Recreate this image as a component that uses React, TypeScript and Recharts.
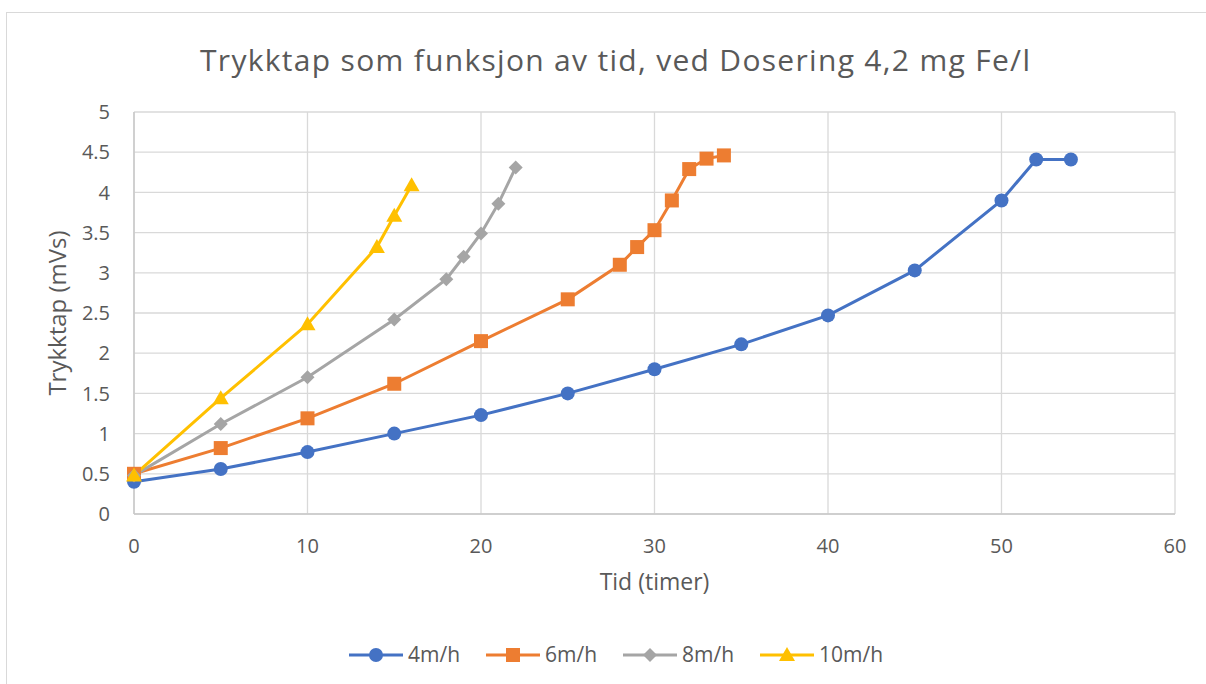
import React from "react";
import { CartesianGrid, Label, Line, LineChart, XAxis, YAxis } from "recharts";

// Trykktap (mVs) målt mot tid (timer), én serie per filterhastighet
const TIME_4 = [0, 5, 10, 15, 20, 25, 30, 35, 40, 45, 50, 52, 54];
const LOSS_4 = [0.4, 0.56, 0.77, 1.0, 1.23, 1.5, 1.8, 2.11, 2.47, 3.03, 3.9, 4.41, 4.41];
const TIME_6 = [0, 5, 10, 15, 20, 25, 28, 29, 30, 31, 32, 33, 34];
const LOSS_6 = [0.5, 0.82, 1.19, 1.62, 2.15, 2.67, 3.1, 3.32, 3.53, 3.9, 4.29, 4.42, 4.46];
const TIME_8 = [0, 5, 10, 15, 18, 19, 20, 21, 22];
const LOSS_8 = [0.48, 1.12, 1.7, 2.42, 2.92, 3.2, 3.49, 3.86, 4.31];
const TIME_10 = [0, 5, 10, 14, 15, 16];
const LOSS_10 = [0.48, 1.44, 2.36, 3.32, 3.71, 4.09];

const X_TICKS = [0, 10, 20, 30, 40, 50, 60];
const Y_TICKS = [0, 0.5, 1, 1.5, 2, 2.5, 3, 3.5, 4, 4.5, 5];

const TITLE = "Trykktap som funksjon av tid, ved Dosering 4,2 mg Fe/l";
const FONT = "'Open Sans', sans-serif";
const TEXT = "#595959";

type Shape = "circle" | "square" | "diamond" | "triangle";

const toPoints = (xs: number[], ys: number[]) => xs.map((x, i) => ({ x, y: ys[i] }));

const SERIES = [
  { name: "4m/h", color: "#4472C4", shape: "circle" as Shape, data: toPoints(TIME_4, LOSS_4) },
  { name: "6m/h", color: "#ED7D31", shape: "square" as Shape, data: toPoints(TIME_6, LOSS_6) },
  { name: "8m/h", color: "#A5A5A5", shape: "diamond" as Shape, data: toPoints(TIME_8, LOSS_8) },
  { name: "10m/h", color: "#FFC000", shape: "triangle" as Shape, data: toPoints(TIME_10, LOSS_10) },
];

function Marker({ shape, cx, cy, color }: { shape: Shape; cx: number; cy: number; color: string }) {
  if (shape === "circle") return <circle cx={cx} cy={cy} r={7} fill={color} />;
  if (shape === "square") return <rect x={cx - 7} y={cy - 7} width={14} height={14} fill={color} />;
  if (shape === "diamond")
    return <polygon points={`${cx},${cy - 7} ${cx + 7},${cy} ${cx},${cy + 7} ${cx - 7},${cy}`} fill={color} />;
  return <polygon points={`${cx},${cy - 8} ${cx + 8},${cy + 6} ${cx - 8},${cy + 6}`} fill={color} />;
}

const makeDot = (shape: Shape, color: string) => (props: any) => (
  <Marker key={`${shape}-${props.index}`} shape={shape} cx={props.cx} cy={props.cy} color={color} />
);

export default function App() {
  return (
    <div style={{ position: "relative", width: 1206, height: 684, overflow: "hidden", background: "#fff" }}>
      <style>{`body { margin: 0; }`}</style>
      <div
        style={{
          position: "absolute",
          left: 6,
          top: 12,
          width: 1220,
          height: 700,
          border: "1.5px solid #d9d9d9",
          boxSizing: "border-box",
        }}
      />
      <LineChart
        width={1206}
        height={684}
        margin={{ top: 112, right: 31, bottom: 90, left: 54 }}
        style={{ position: "absolute", left: 0, top: 0, fontFamily: FONT }}
      >
        <CartesianGrid stroke="#d9d9d9" strokeWidth={1.3} />
        <XAxis
          dataKey="x"
          type="number"
          domain={[0, 60]}
          ticks={X_TICKS}
          height={80}
          tickLine={false}
          tickMargin={19}
          axisLine={{ stroke: "#c8c8c8", strokeWidth: 1.5 }}
          tick={{ fill: TEXT, fontSize: 20 }}
          allowDuplicatedCategory={false}
        >
          <Label
            content={(p: any) => (
              <text
                x={p.viewBox.x + p.viewBox.width / 2}
                y={p.viewBox.y + 76}
                textAnchor="middle"
                fill={TEXT}
                fontSize={23}
                fontFamily={FONT}
              >
                Tid (timer)
              </text>
            )}
          />
        </XAxis>
        <YAxis
          type="number"
          domain={[0, 5]}
          ticks={Y_TICKS}
          width={80}
          tickLine={false}
          tickMargin={18}
          axisLine={{ stroke: "#c8c8c8", strokeWidth: 1.5 }}
          tick={{ fill: TEXT, fontSize: 20 }}
        >
          <Label
            content={(p: any) => {
              const cy = p.viewBox.y + p.viewBox.height / 2;
              return (
                <text
                  x={66}
                  y={cy}
                  transform={`rotate(-90 66 ${cy})`}
                  textAnchor="middle"
                  fill={TEXT}
                  fontSize={24}
                  fontFamily={FONT}
                >
                  Trykktap (mVs)
                </text>
              );
            }}
          />
        </YAxis>
        {SERIES.map((s) => (
          <Line
            key={s.name}
            data={s.data}
            dataKey="y"
            name={s.name}
            stroke={s.color}
            strokeWidth={3}
            dot={makeDot(s.shape, s.color)}
            activeDot={false}
            isAnimationActive={false}
          />
        ))}
      </LineChart>
      <svg width={1206} height={684} style={{ position: "absolute", left: 0, top: 0, pointerEvents: "none" }}>
        <text
          x={615}
          y={71}
          textAnchor="middle"
          fill={TEXT}
          fontSize={30}
          fontFamily={FONT}
          textLength={830}
          lengthAdjust="spacing"
        >
          {TITLE}
        </text>
        {SERIES.map((s, i) => {
          const x0 = 349 + i * 137;
          return (
            <g key={s.name}>
              <line x1={x0} x2={x0 + 54} y1={655} y2={655} stroke={s.color} strokeWidth={3} />
              <Marker shape={s.shape} cx={x0 + 27} cy={655} color={s.color} />
              <text x={x0 + 59} y={662} fill={TEXT} fontSize={21} fontFamily={FONT}>
                {s.name}
              </text>
            </g>
          );
        })}
      </svg>
    </div>
  );
}
